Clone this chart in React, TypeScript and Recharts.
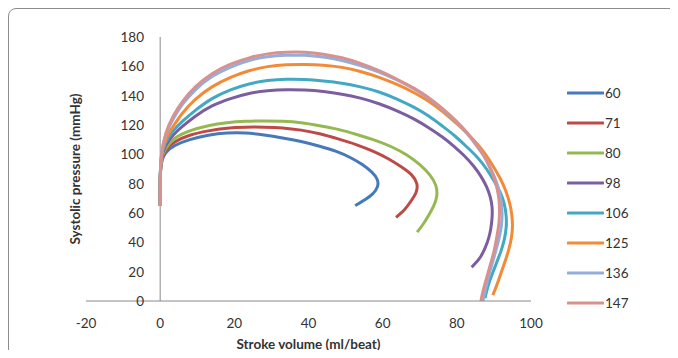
import { LineChart, Line, XAxis, YAxis, ReferenceLine } from 'recharts';

const xTicks = [-20, 0, 20, 40, 60, 80, 100];
const yTicks = [0, 20, 40, 60, 80, 100, 120, 140, 160, 180];

// heart rate groups, drawn from the back to the front
const seriesNames = ['60', '71', '80', '98', '106', '125', '136', '147'];
const seriesColors = ['#4579BA', '#BD4A47', '#96B851', '#7B5E9F', '#43A8C3', '#F38A36', '#93AEDA', '#D8918E'];

// [stroke volume, systolic pressure]
const hr60 = [[0, 65], [0, 80], [0.3, 93], [1.5, 101], [4, 106], [8, 110], [13, 113], [18, 114.5], [23, 114.5], [28, 113.2], [33, 111.2], [38, 108.7], [43, 105.5], [47.5, 102], [51.5, 97.5], [54.5, 93], [57, 88], [58.5, 83], [58.6, 78], [57.3, 73], [55.2, 69], [52.6, 65]];
const hr71 = [[0, 65], [0, 80], [0.3, 94], [1.5, 103], [4, 108.5], [8, 113], [13, 116], [18, 117.8], [23, 118.5], [28, 118.5], [33, 118], [38, 116.5], [43, 114], [48, 110.5], [53, 106.5], [57.5, 102], [61.5, 97], [65, 91.5], [67.8, 86], [69.2, 80], [69, 74], [67.6, 68], [65.8, 62], [63.6, 57]];
const hr80 = [[0, 65], [0, 80], [0.3, 95], [1.5, 104], [4, 111], [8, 116], [13, 119.5], [18, 121.5], [23, 122.5], [28, 122.8], [33, 122.5], [38, 121.5], [43, 119.5], [48, 117], [53, 113.5], [58, 109.5], [62.5, 105], [66.5, 99.5], [70, 93], [72.7, 86], [74.3, 79], [74.6, 72], [73.8, 65], [72.3, 58], [70.8, 52], [69.3, 47]];
const hr98 = [[0, 65], [0, 80], [0.3, 96], [1.5, 106], [3.5, 113], [6, 119], [9.5, 126], [14, 133], [19, 138], [24, 141.5], [29, 143.3], [34, 144], [39, 143.8], [44, 142.8], [49, 141], [54, 138.3], [59, 134.5], [64, 129.5], [68.5, 124], [72.5, 118], [76, 112], [79, 106], [82, 99], [84.5, 92], [86.5, 85], [88, 78], [89, 71], [89.5, 64], [89.5, 57], [89.2, 50], [88.6, 43], [87.6, 36], [86.1, 29], [84, 23]];
const hr106 = [[0, 65], [0, 80], [0.3, 97], [1.5, 108], [3.5, 116], [6, 122.5], [9.5, 130], [14, 138], [19, 144], [24, 148], [29, 150.3], [34, 151.2], [39, 151], [44, 150], [49, 148.5], [54, 146], [59, 142.5], [64, 137.5], [68.5, 132], [72.5, 126], [76, 119.5], [79.5, 112.5], [82.5, 105.5], [85.5, 98], [88, 90], [90, 82], [91.7, 74], [92.8, 66], [93.3, 58], [93.3, 50], [92.8, 42], [91.9, 34], [90.7, 26], [89.5, 18], [88.4, 10], [87.6, 2]];
const hr125 = [[0, 65], [0, 80], [0.3, 97], [1.5, 110], [3.5, 119], [6, 128], [9.5, 137.5], [14, 146], [19, 152.5], [24, 157], [29, 159.8], [34, 161], [39, 161.2], [44, 160.8], [49, 159.3], [54, 156.5], [59, 152.5], [64, 147.5], [68.5, 142], [72.5, 136], [76, 129.5], [79.5, 122], [82.5, 115], [85.5, 107], [88, 99], [90, 91], [91.8, 83], [93.2, 75], [94.2, 67], [94.8, 59], [95, 51], [94.7, 43], [94, 35], [93, 27], [91.9, 19], [90.8, 11], [89.7, 4]];
const hr136 = [[0, 65], [0, 80], [0.3, 98], [1.5, 113], [3.5, 124], [6, 134], [9.5, 144], [14, 153], [19, 159.5], [24, 164], [29, 166.5], [34, 167.5], [39, 167.5], [44, 166.3], [49, 164], [54, 160.5], [59, 156], [64, 150.5], [68.5, 144.5], [72.5, 138], [76, 131], [79.5, 123], [82.5, 115], [85, 107], [87.3, 99], [89, 91], [90.4, 83], [91.4, 75], [92, 67], [92.2, 59], [92, 51], [91.4, 43], [90.6, 35], [89.7, 27], [88.8, 19], [88, 11], [87.3, 3], [87, 0]];
const hr147 = [[0, 65], [0, 80], [0.3, 98], [1.5, 114], [3.5, 126], [6, 136], [9.5, 146], [14, 155], [19, 161.5], [24, 165.8], [29, 168.5], [34, 169.6], [39, 169.6], [44, 168.3], [49, 165.8], [54, 162], [59, 157], [64, 151], [68.5, 145], [72.5, 138.5], [76, 131.5], [79.5, 123.5], [82.5, 115.5], [85, 107.5], [87, 100], [88.7, 92], [90, 84], [90.9, 76], [91.4, 68], [91.5, 60], [91.3, 52], [90.8, 44], [90.2, 36], [89.4, 28], [88.5, 20], [87.6, 12], [86.9, 5], [86.5, 0]];

const allSeries = [hr60, hr71, hr80, hr98, hr106, hr125, hr136, hr147];

const font = "Lato, 'Open Sans', sans-serif";

function YTick(props: any) {
  const { x, y, payload } = props;
  return (
    <text x={x + 58} y={y} dy={5} textAnchor="end" fontSize={13.5} fill="#333" fontFamily={font}>
      {payload.value}
    </text>
  );
}

function LegendBox() {
  return (
    <div style={{ position: 'absolute', left: 567, top: 78, fontFamily: font, fontSize: 13.5, color: '#333' }}>
      {seriesNames.map((name, i) => (
        <div key={name} style={{ height: 30, display: 'flex', alignItems: 'center' }}>
          <svg width={37} height={6}>
            <line x1={1} y1={3} x2={36} y2={3} stroke={seriesColors[i]} strokeWidth={3} strokeLinecap="round" />
          </svg>
          <span style={{ marginLeft: 1 }}>{name}</span>
        </div>
      ))}
    </div>
  );
}

export default function App() {
  return (
    <div style={{ position: 'relative', width: 678, height: 358, margin: -8, overflow: 'hidden', background: '#fff' }}>
      <div
        style={{
          position: 'absolute',
          left: 8,
          top: 8,
          width: 720,
          height: 400,
          border: '1px solid #8c8c8c',
          borderRadius: 8,
        }}
      />
      <div style={{ position: 'absolute', left: 0, top: 0 }}>
        <LineChart width={678} height={358} margin={{ top: 37, right: 147, bottom: 0, left: 0 }}>
          <XAxis
            type="number"
            dataKey="x"
            domain={[-20, 100]}
            ticks={xTicks}
            height={57}
            tickSize={0}
            tickMargin={17}
            tickLine={false}
            axisLine={{ stroke: '#8a8a8a' }}
            tick={{ fontSize: 13.5, fill: '#333', fontFamily: font }}
            label={{
              value: 'Stroke volume (ml/beat)',
              position: 'insideBottom',
              offset: 9,
              style: { fontSize: 13.5, fontWeight: 'bold', fill: '#333', fontFamily: font },
            }}
          />
          <YAxis
            type="number"
            dataKey="y"
            domain={[0, 180]}
            ticks={yTicks}
            width={86}
            tickSize={0}
            tickMargin={0}
            tickLine={false}
            axisLine={false}
            tick={<YTick />}
            label={{
              value: 'Systolic pressure (mmHg)',
              angle: -90,
              position: 'insideLeft',
              offset: 75,
              style: { textAnchor: 'middle', fontSize: 13.5, fontWeight: 'bold', fill: '#333', fontFamily: font },
            }}
          />
          <ReferenceLine x={0} stroke="#8a8a8a" />
          {allSeries.map((s, i) => (
            <Line
              key={seriesNames[i]}
              name={seriesNames[i]}
              data={s.map(([x, y]) => ({ x, y }))}
              dataKey="y"
              type="natural"
              stroke={seriesColors[i]}
              strokeWidth={3}
              dot={false}
              activeDot={false}
              isAnimationActive={false}
            />
          ))}
        </LineChart>
      </div>
      <LegendBox />
    </div>
  );
}
